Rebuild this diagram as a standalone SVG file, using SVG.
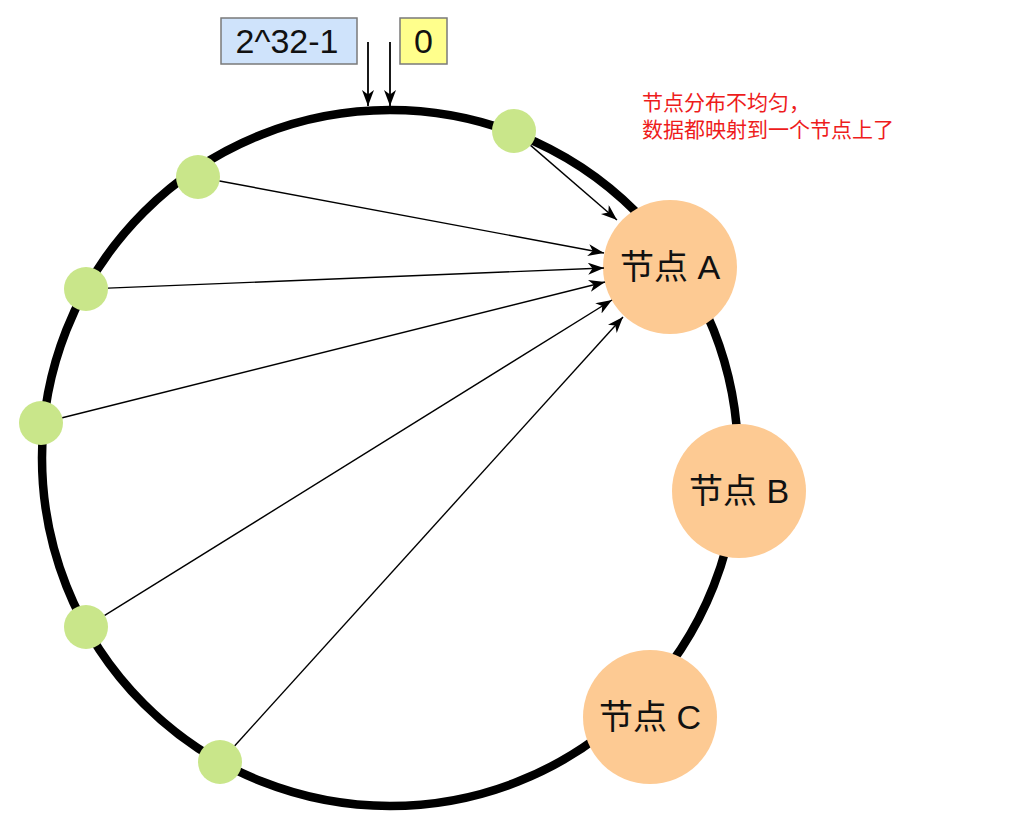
<svg xmlns="http://www.w3.org/2000/svg" width="1010" height="839" viewBox="0 0 1010 839">
<style>
.ring{fill:none;stroke:#000;stroke-width:8.5}
.dot{fill:#c9e68a}
.srv{fill:#fdca93}
.lbl{font-family:"Liberation Sans","Noto Sans CJK SC",sans-serif;font-size:34px;fill:#111;text-anchor:middle}
.box{stroke:#7a7a7a;stroke-width:1.5}
.btxt{font-family:"Liberation Sans","Noto Sans CJK SC",sans-serif;font-size:34px;fill:#111;text-anchor:middle}
.note{font-family:"Liberation Sans","Noto Sans CJK SC",sans-serif;font-size:21px;fill:#ee1c1c}
.con{stroke:#000;stroke-width:1.4;fill:none;marker-end:url(#arr)}
.con2{stroke:#000;stroke-width:1.8;fill:none;marker-end:url(#arr)}
</style>
<defs>
<marker id="arr" markerUnits="userSpaceOnUse" markerWidth="18" markerHeight="14" refX="16" refY="6" orient="auto">
<path d="M0,0 L16,6 L0,12 L4.5,6 Z" fill="#000"/>
</marker>
</defs>
<rect width="1010" height="839" fill="#fff"/>
<g id="ring"><circle class="ring" cx="390" cy="458" r="348"/></g>
<g id="label-max">
<rect class="box" x="221" y="18" width="136" height="46" fill="#cfe3fb"/>
<text class="btxt" x="287" y="53">2^32-1</text>
</g>
<g id="label-zero">
<rect class="box" x="400" y="18" width="47" height="46" fill="#ffff8c"/>
<text class="btxt" x="423.5" y="53">0</text>
</g>
<g id="note">
<text class="note" x="642" y="110">节点分布不均匀，</text>
<text class="note" x="642" y="137">数据都映射到一个节点上了</text>
</g>
<g id="dots">
<circle id="d1" class="dot" cx="514" cy="131" r="22"/>
<circle id="d2" class="dot" cx="198" cy="177" r="22"/>
<circle id="d3" class="dot" cx="86" cy="289" r="22"/>
<circle id="d4" class="dot" cx="41" cy="423" r="22"/>
<circle id="d5" class="dot" cx="86" cy="627" r="22"/>
<circle id="d6" class="dot" cx="220" cy="762" r="22"/>
</g>
<g id="nodeA"><circle class="srv" cx="670" cy="267" r="67"/><text class="lbl" x="670" y="279">节点 A</text></g>
<g id="nodeB"><circle class="srv" cx="739" cy="491" r="67"/><text class="lbl" x="739" y="503">节点 B</text></g>
<g id="nodeC"><circle class="srv" cx="650" cy="717" r="67"/><text class="lbl" x="650" y="729">节点 C</text></g>
<g id="connectors">
<line class="con2" x1="368" y1="42" x2="368" y2="106"/>
<line class="con2" x1="390" y1="42" x2="390" y2="106"/>
<line class="con" x1="530.6" y1="145.4" x2="617" y2="220"/>
<line class="con" x1="219.6" y1="181" x2="604" y2="253"/>
<line class="con" x1="108" y1="288.1" x2="604" y2="268"/>
<line class="con" x1="62.3" y1="417.7" x2="605" y2="282"/>
<line class="con" x1="104.7" y1="615.4" x2="612" y2="300"/>
<line class="con" x1="234.8" y1="745.7" x2="623" y2="317"/>
</g>
</svg>
